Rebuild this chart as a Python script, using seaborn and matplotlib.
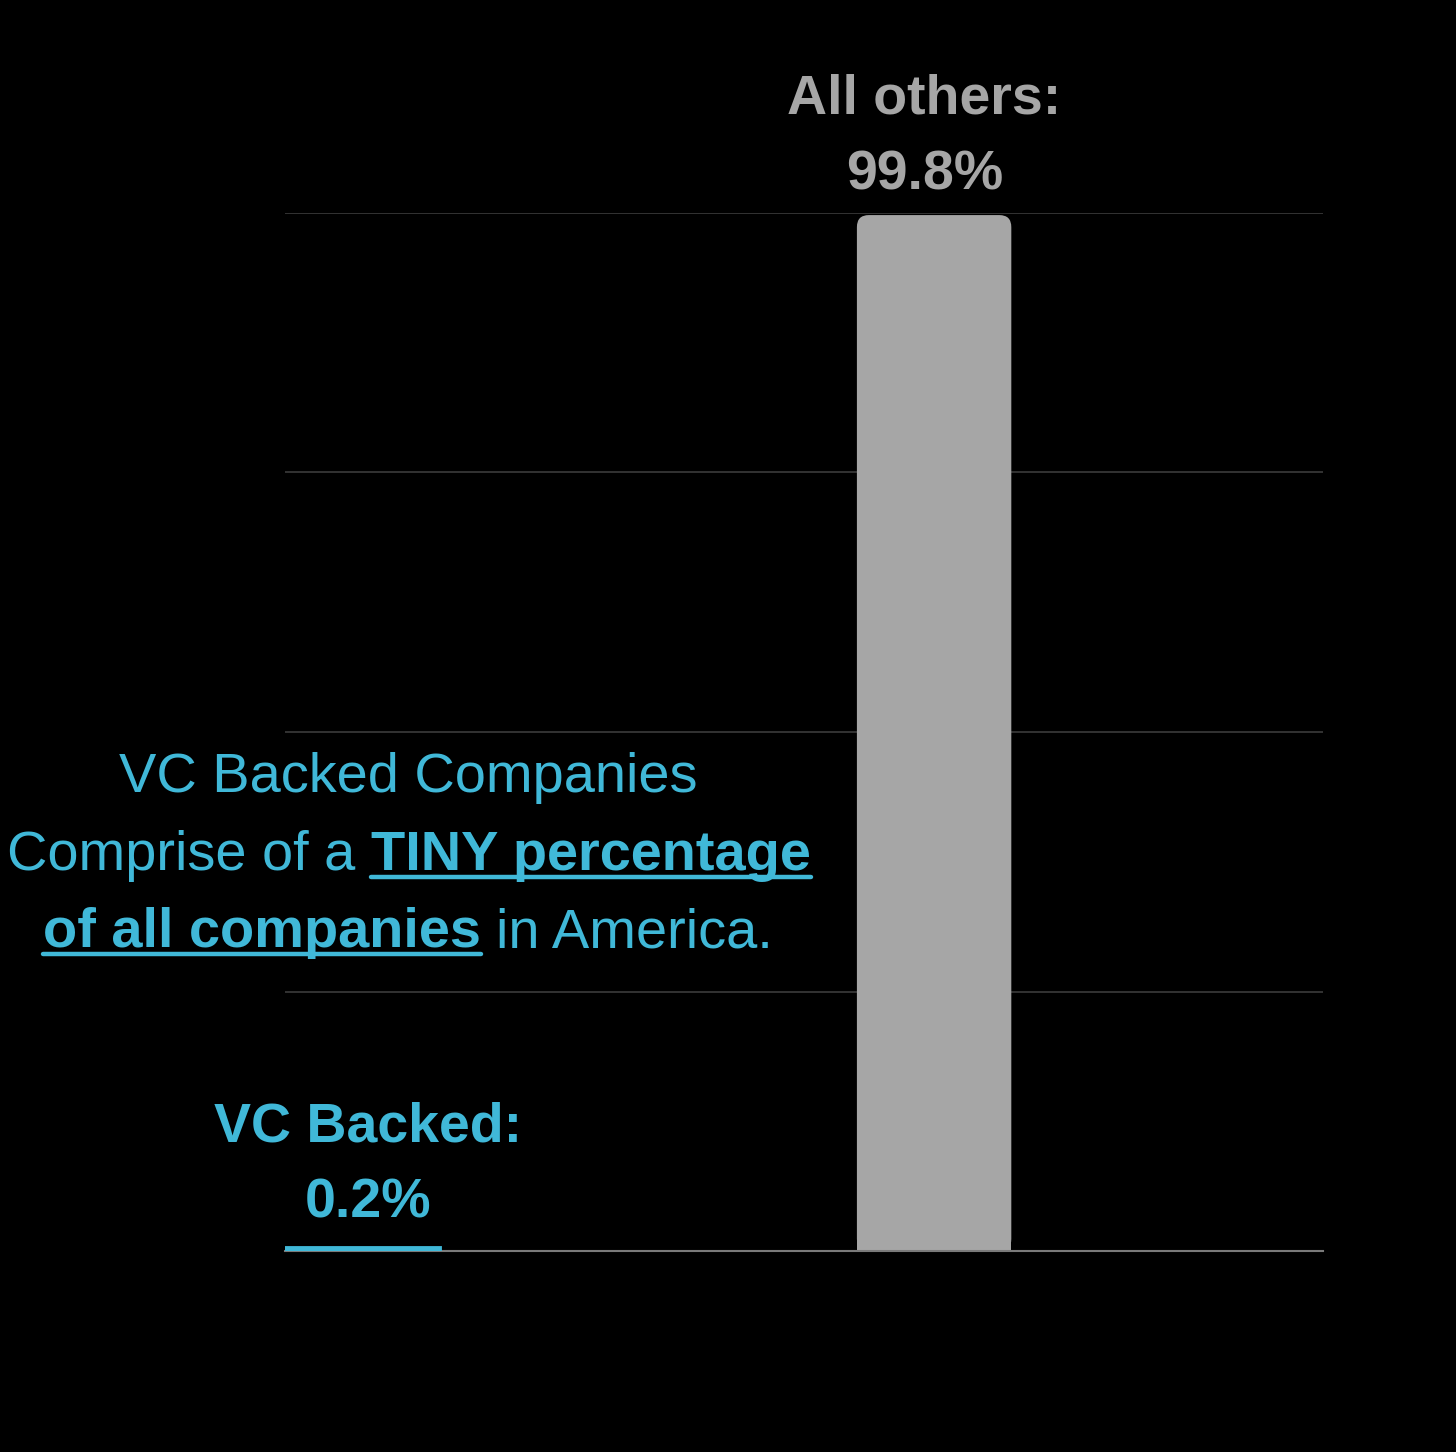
import seaborn as sns
import matplotlib.pyplot as plt
import pandas as pd
from matplotlib.patches import FancyBboxPatch, Rectangle
from matplotlib.lines import Line2D

# data
categories = ["VC Backed", "All others"]
shares = [0.2, 99.8]
value_labels = ["0.2%", "99.8%"]
bar_colors = ["#40b8d8", "#a6a6a6"]
grid_ticks = [0, 25, 50, 75, 100]

blue = bar_colors[0]
gray = bar_colors[1]

df = pd.DataFrame({"group": categories, "share": shares})

sns.set_style("dark")
plt.rcParams["font.family"] = ["Liberation Sans", "DejaVu Sans"]

W, H = 1456, 1452
fig = plt.figure(figsize=(W / 100, H / 100), dpi=100, facecolor="black")
ax = fig.add_axes([285 / W, 1 - 1251 / H, (1323 - 285) / W, (1251 - 213) / H])
ax.set_facecolor("black")

sns.barplot(data=df, x="group", y="share", hue="group", palette=bar_colors,
            width=0.27, saturation=1, legend=False, ax=ax, zorder=3)

ax.set_ylim(0, 100)
ax.set_xlim(-0.135, 1.68)
ax.set_yticks(grid_ticks)
ax.grid(axis="y", color="#3c3c3c", lw=1.2)
ax.grid(axis="x", visible=False)
ax.tick_params(length=0, labelleft=False, labelbottom=False)
ax.set_xlabel("")
ax.set_ylabel("")
for s in ["left", "right", "top"]:
    ax.spines[s].set_visible(False)
ax.spines["bottom"].set_color("#7a7a7a")
ax.spines["bottom"].set_linewidth(1.5)
ax.spines["bottom"].set_zorder(4)

# pixel size of one data unit, used for rounded corners
fig.canvas.draw()
p0 = ax.transData.transform((0, 0))
p1 = ax.transData.transform((1, 1))
px_x = p1[0] - p0[0]
px_y = p1[1] - p0[1]

bars = list(ax.patches)
# the tiny bar: thicken it with an edge so it shows
bars[0].set_edgecolor(blue)
bars[0].set_linewidth(4.2)
bars[0].set_zorder(5)

# the tall bar: rounded top corners
big = bars[1]
bx, by = big.get_x(), big.get_y()
bw, bh = big.get_width(), big.get_height()
big.set_visible(False)
r = 12 / px_x
ax.add_patch(FancyBboxPatch((bx, by), bw, bh,
                            boxstyle=f"round,pad=0,rounding_size={r}",
                            mutation_aspect=px_x / px_y,
                            fc=gray, ec="none", zorder=3))
ax.add_patch(Rectangle((bx, by), bw, bh / 2, fc=gray, ec="none", zorder=3))

# value labels over the bars
offsets = [(4, 14), (-7, 10)]
for i, (cat, lab) in enumerate(zip(categories, value_labels)):
    ax.annotate(f"{cat}:\n{lab}", xy=(i, shares[i]), xytext=offsets[i],
                textcoords="offset points", ha="center", va="bottom",
                fontsize=40, fontweight="bold", color=bar_colors[i],
                linespacing=1.6)

# the note, with bold underlined parts
rend = fig.canvas.get_renderer()
em = 40.3 * 100 / 72
space = 0.278 * em


def rich_line(parts, cx, base):
    items = []
    for s, bold in parts:
        t = fig.text(0, 0, s, fontsize=40.3, color=blue,
                     fontweight="bold" if bold else "normal",
                     ha="left", va="baseline")
        items.append((t, bold, t.get_window_extent(rend).width))
    total = sum(w for _, _, w in items) + space * (len(items) - 1)
    x = cx - total / 2
    for t, bold, w in items:
        t.set_position((x / W, 1 - base / H))
        if bold:
            yy = 1 - (base + 7) / H
            fig.add_artist(Line2D([x / W, (x + w) / W], [yy, yy], lw=3.2, color=blue))
        x += w + space


rich_line([("VC Backed Companies", False)], 408, 792)
rich_line([("Comprise of a", False), ("TINY percentage", True)], 409, 870)
rich_line([("of all companies", True), ("in America.", False)], 408, 947)

plt.savefig("out.png", dpi=100, facecolor="black")
